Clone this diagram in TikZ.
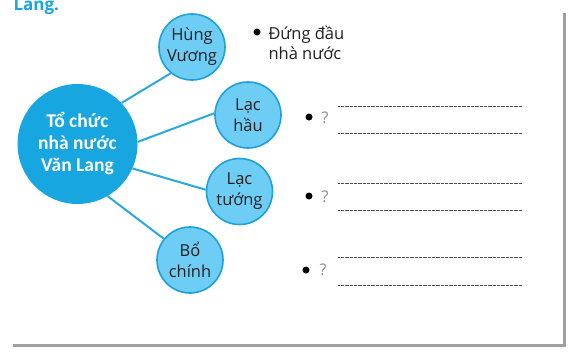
\documentclass[tikz,border=0pt]{standalone}
\usepackage{fontspec}
\setmainfont{Open Sans}
\newfontfamily\hubfont{Carlito}
\usepackage{tikz}
\usetikzlibrary{positioning}

\definecolor{mainblue}{RGB}{24,166,224}
\definecolor{lightblue}{RGB}{110,205,244}
\definecolor{edgeblue}{RGB}{30,160,218}
\definecolor{linkblue}{RGB}{42,169,224}
\definecolor{inkgray}{RGB}{35,31,32}

\begin{document}
\begin{tikzpicture}[x=1pt, y=-1pt,
        hub/.style={circle, fill=mainblue, minimum size=120pt, inner sep=0pt, align=center, text=white, font=\hubfont\fontsize{19.5}{22}\selectfont\bfseries},
        role/.style={circle, draw=edgeblue, line width=1.6pt, fill=lightblue, minimum size=66pt, inner sep=0pt, align=center, text=inkgray, font=\fontsize{16.5}{21}\selectfont},
        link/.style={draw=linkblue, line width=2pt},
        dot/.style={circle, fill=black, minimum size=7pt, inner sep=0pt},
        ask/.style={anchor=base west, font=\rmfamily\fontsize{16}{16}\selectfont, text=gray!90},
        blank/.style={draw=gray!60!black, line width=0.6pt, dash pattern=on 0.6pt off 0.7pt},
        frameshade/.style={draw=gray!75, line width=3pt}
    ]
    \useasboundingbox (0,0) rectangle (574,356);

    % Cut-off heading
    \node[anchor=base west, text=mainblue, font=\fontsize{17}{20}\selectfont\bfseries] (heading) at (10,10.5) {Lang.};

    % Centre
    \node[hub] (state) at (77.5,144) {Tổ chức\\nhà nước\\Văn Lang};

    % Roles
    \node[role] (king) at (192,47) {Hùng\\Vương};
    \node[role] (lachau) at (248,115) {Lạc\\hầu};
    \node[role] (lactuong) at (239.5,191.5) {Lạc\\tướng};
    \node[role] (bochinh) at (190,260) {Bổ\\chính};

    % Links
    \draw[link] (state.43) -- (king.231);
    \draw[link] (state.2) -- (lachau.177);
    \draw[link] (state.-24) -- (lactuong.177);
    \draw[link] (state.-60) -- (bochinh.141);

    % Answers
    \node[dot] (dot0) at (257,32) {};
    \node[anchor=west, align=left, text=inkgray, font=\fontsize{16.5}{20}\selectfont] (lead) at (265,43) {Đứng đầu\\nhà nước};
    \node[dot] (dot1) at (309,117) {};
    \node[dot] (dot2) at (309,196) {};
    \node[dot] (dot3) at (306,270) {};
    \node[ask] (ask1) at (318,123) {?};
    \node[ask] (ask2) at (318,202) {?};
    \node[ask] (ask3) at (316,275) {?};

    % Blank lines to fill in
    \foreach \y in {106,133,183,210,257,285}
        \draw[blank] (338,\y) -- (522,\y);

    % Page shadow
    \draw[frameshade] (564.5,13) -- (564.5,345.5) -- (13,345.5);
\end{tikzpicture}
\end{document}
